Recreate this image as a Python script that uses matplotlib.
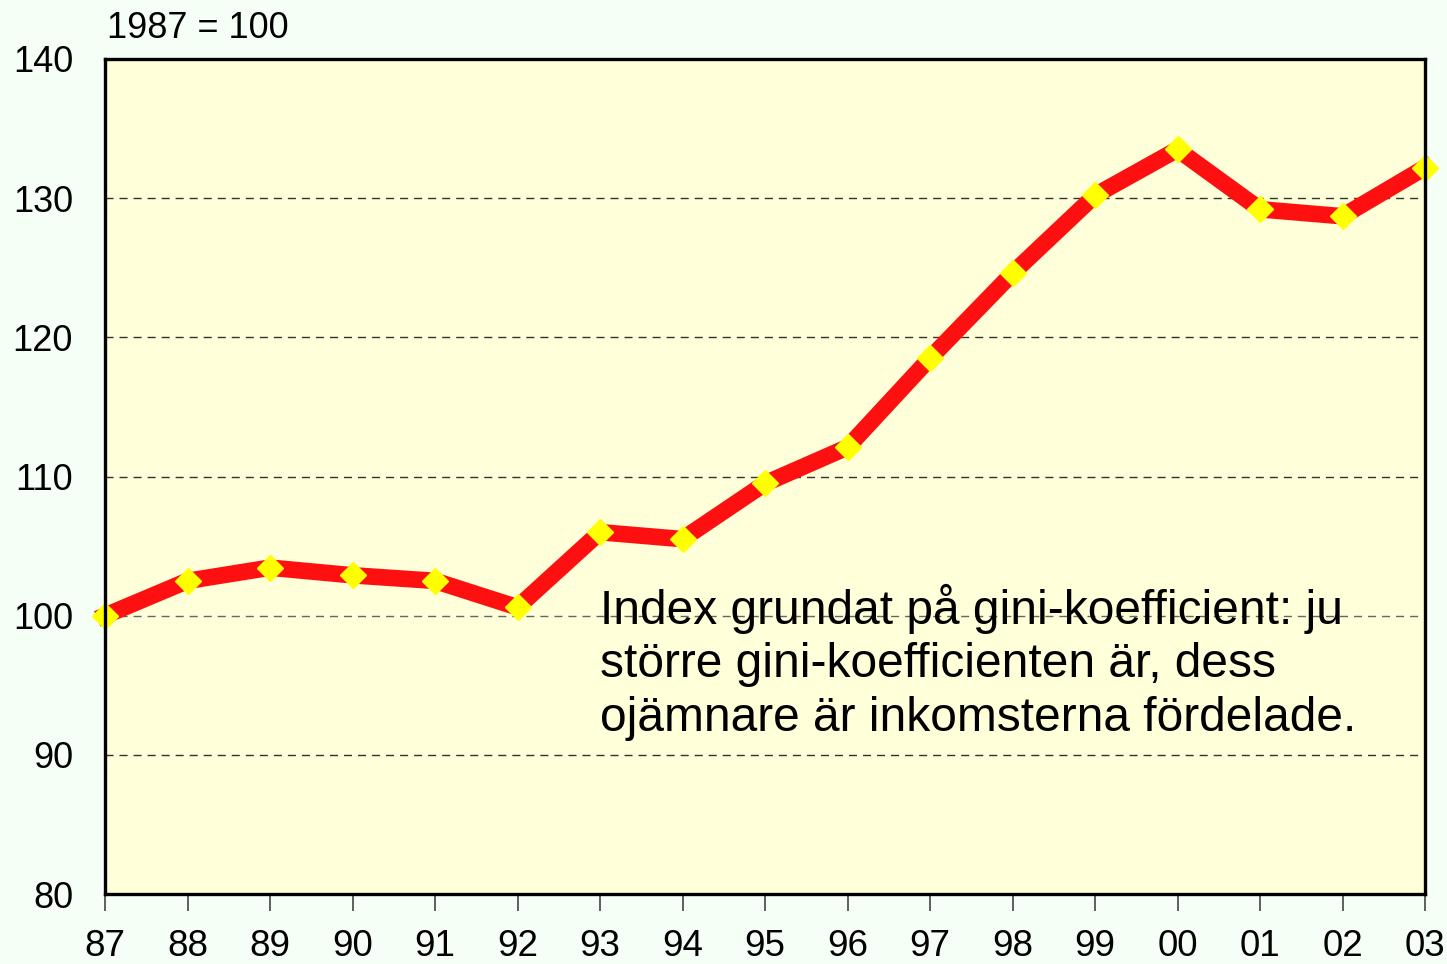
import matplotlib
matplotlib.use("Agg")
import matplotlib.pyplot as plt

years = ["87", "88", "89", "90", "91", "92", "93", "94", "95", "96", "97", "98", "99", "00", "01", "02", "03"]
index_values = [100.0, 102.5, 103.45, 102.9, 102.5, 100.6, 106.0, 105.5, 109.5, 112.1, 118.5, 124.6, 130.2, 133.5, 129.2, 128.7, 132.2]
y_ticks = [80, 90, 100, 110, 120, 130, 140]

plt.rcParams['font.family'] = ['Liberation Sans', 'DejaVu Sans']

fig = plt.figure(figsize=(14.47, 9.64), dpi=100, facecolor="#F5FFF5")
ax = fig.add_axes([105/1447, 1 - 894/964, (1425-105)/1447, (894-59)/964])
ax.set_facecolor("#FFFFD9")

x = list(range(len(years)))
ax.plot(x, index_values, color="#FF1010", lw=12, solid_joinstyle="miter", zorder=3, clip_on=False)
ax.plot(x, index_values, ls="none", marker="D", ms=13, color="#FFFF00", mec="#FFFF00", zorder=4, clip_on=False)

ax.set_xlim(0, len(years) - 1)
ax.set_ylim(80, 140)
ax.set_xticks(x)
ax.set_xticklabels(years)
ax.set_yticks(y_ticks)
ax.tick_params(axis="y", length=0, pad=23, labelsize=26)
ax.tick_params(axis="x", length=12.5, width=1.2, color="#444444", pad=12.5, labelsize=26.5)
for gy in [90, 100, 110, 120, 130]:
    ax.axhline(gy, color="#333333" if gy != 100 else "#666666", lw=1.0, ls=(0, (5.8, 4.3)), zorder=2)
for s in ax.spines.values():
    s.set_linewidth(2.4)
    s.set_color("black")
    s.set_zorder(5)

fig.text(107/1447, 1 - 28/964, "1987 = 100", fontsize=26, ha="left", va="center")
ax.text(6.0, 102.3, "Index grundat på gini-koefficient: ju\nstörre gini-koefficienten är, dess\nojämnare är inkomsterna fördelade.",
        fontsize=34.5, ha="left", va="top", linespacing=1.24, zorder=6)

fig.savefig("out.png", dpi=100, facecolor=fig.get_facecolor())
